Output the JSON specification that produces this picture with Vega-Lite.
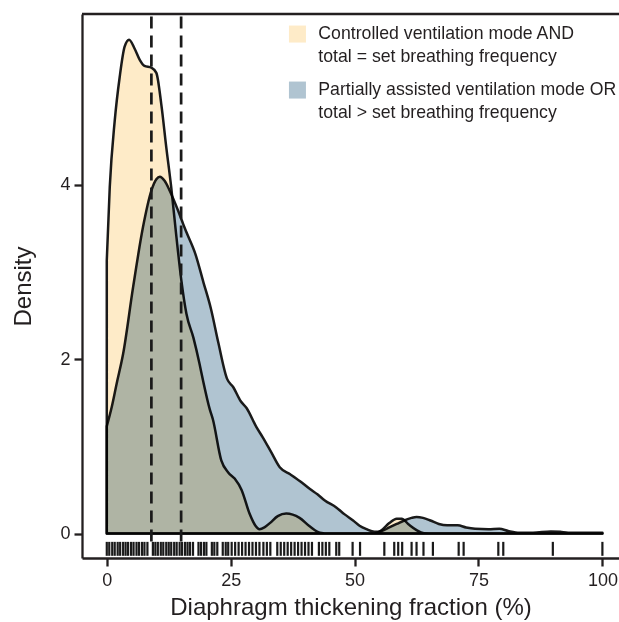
{
  "$schema": "https://vega.github.io/schema/vega-lite/v6.json",
  "autosize": {"type": "none"},
  "padding": {"left": 82, "top": 14, "right": 0, "bottom": 64},
  "width": 537,
  "height": 544,
  "config": {
    "view": {"stroke": null},
    "font": "Liberation Sans",
    "axis": {
      "grid": false,
      "domainColor": "#231F20",
      "domainWidth": 2.3,
      "tickColor": "#231F20",
      "tickWidth": 2.3,
      "tickSize": 8,
      "labelFont": "Liberation Sans",
      "labelFontSize": 18,
      "labelColor": "#231F20",
      "titleFont": "Liberation Sans",
      "titleFontSize": 24,
      "titleFontWeight": "normal",
      "titleColor": "#231F20"
    },
    "legend": {
      "orient": "none",
      "legendX": 206.6,
      "legendY": 11.2,
      "padding": 0,
      "symbolType": "square",
      "symbolSize": 289,
      "symbolStrokeWidth": 0,
      "symbolOpacity": 1,
      "labelFont": "Liberation Sans",
      "labelFontSize": 17.7,
      "labelColor": "#231F20",
      "labelOffset": 12,
      "labelLimit": 400,
      "rowPadding": 14
    }
  },
  "datasets": {
    "density": [
      {"g": "c", "x": 0, "y": 3.13}, {"g": "c", "x": 0.6, "y": 3.97}, {"g": "c", "x": 1.6, "y": 4.73}, {"g": "c", "x": 2.6, "y": 5.23},
      {"g": "c", "x": 3.6, "y": 5.58}, {"g": "c", "x": 4.5, "y": 5.66}, {"g": "c", "x": 5.6, "y": 5.56}, {"g": "c", "x": 6.65, "y": 5.43},
      {"g": "c", "x": 7.6, "y": 5.36}, {"g": "c", "x": 9.0, "y": 5.34}, {"g": "c", "x": 10.0, "y": 5.28}, {"g": "c", "x": 11.0, "y": 4.92},
      {"g": "c", "x": 12.0, "y": 4.43}, {"g": "c", "x": 13.0, "y": 3.97}, {"g": "c", "x": 14.05, "y": 3.40}, {"g": "c", "x": 15.05, "y": 2.90},
      {"g": "c", "x": 16.07, "y": 2.52}, {"g": "c", "x": 17.5, "y": 2.24}, {"g": "c", "x": 18.7, "y": 1.95}, {"g": "c", "x": 19.4, "y": 1.76},
      {"g": "c", "x": 20.8, "y": 1.42}, {"g": "c", "x": 21.4, "y": 1.31}, {"g": "c", "x": 23.1, "y": 0.84}, {"g": "c", "x": 24.5, "y": 0.70},
      {"g": "c", "x": 25.8, "y": 0.63}, {"g": "c", "x": 27.2, "y": 0.50}, {"g": "c", "x": 28.8, "y": 0.23}, {"g": "c", "x": 30.0, "y": 0.09},
      {"g": "c", "x": 30.8, "y": 0.05}, {"g": "c", "x": 31.8, "y": 0.07}, {"g": "c", "x": 32.9, "y": 0.12}, {"g": "c", "x": 34.5, "y": 0.20},
      {"g": "c", "x": 36.2, "y": 0.23}, {"g": "c", "x": 38.9, "y": 0.18}, {"g": "c", "x": 41, "y": 0.08}, {"g": "c", "x": 43, "y": 0.01},
      {"g": "c", "x": 45, "y": 0}, {"g": "c", "x": 54, "y": 0}, {"g": "c", "x": 55.5, "y": 0.04}, {"g": "c", "x": 57, "y": 0.12},
      {"g": "c", "x": 58.5, "y": 0.17}, {"g": "c", "x": 59.5, "y": 0.17}, {"g": "c", "x": 61, "y": 0.10}, {"g": "c", "x": 62.5, "y": 0.04},
      {"g": "c", "x": 64, "y": 0.005}, {"g": "c", "x": 66, "y": 0}, {"g": "c", "x": 100, "y": 0},
      {"g": "p", "x": 0, "y": 1.23}, {"g": "p", "x": 1, "y": 1.45}, {"g": "p", "x": 2, "y": 1.72}, {"g": "p", "x": 3.3, "y": 2.06},
      {"g": "p", "x": 5.3, "y": 2.82}, {"g": "p", "x": 7.3, "y": 3.51}, {"g": "p", "x": 9.0, "y": 3.93}, {"g": "p", "x": 10.0, "y": 4.06},
      {"g": "p", "x": 10.7, "y": 4.09}, {"g": "p", "x": 11.7, "y": 4.04}, {"g": "p", "x": 12.7, "y": 3.93}, {"g": "p", "x": 14.4, "y": 3.70},
      {"g": "p", "x": 15.4, "y": 3.55}, {"g": "p", "x": 16.1, "y": 3.45}, {"g": "p", "x": 17.9, "y": 3.20}, {"g": "p", "x": 19.5, "y": 2.88},
      {"g": "p", "x": 21.0, "y": 2.58}, {"g": "p", "x": 22.5, "y": 2.19}, {"g": "p", "x": 24.3, "y": 1.77}, {"g": "p", "x": 25.5, "y": 1.68},
      {"g": "p", "x": 27.0, "y": 1.52}, {"g": "p", "x": 28.2, "y": 1.44}, {"g": "p", "x": 30.2, "y": 1.22}, {"g": "p", "x": 31.5, "y": 1.10},
      {"g": "p", "x": 33.2, "y": 0.93}, {"g": "p", "x": 34.9, "y": 0.76}, {"g": "p", "x": 37, "y": 0.68}, {"g": "p", "x": 39, "y": 0.60},
      {"g": "p", "x": 41, "y": 0.51}, {"g": "p", "x": 42.5, "y": 0.45}, {"g": "p", "x": 44, "y": 0.38}, {"g": "p", "x": 46.3, "y": 0.30},
      {"g": "p", "x": 48, "y": 0.22}, {"g": "p", "x": 49.7, "y": 0.15}, {"g": "p", "x": 51, "y": 0.09}, {"g": "p", "x": 52.4, "y": 0.05},
      {"g": "p", "x": 54.0, "y": 0.02}, {"g": "p", "x": 55.5, "y": 0.03}, {"g": "p", "x": 57.0, "y": 0.07}, {"g": "p", "x": 58.5, "y": 0.11},
      {"g": "p", "x": 60, "y": 0.15}, {"g": "p", "x": 61.5, "y": 0.18}, {"g": "p", "x": 62.5, "y": 0.19}, {"g": "p", "x": 63.8, "y": 0.18},
      {"g": "p", "x": 65.3, "y": 0.15}, {"g": "p", "x": 67, "y": 0.11}, {"g": "p", "x": 68.7, "y": 0.095}, {"g": "p", "x": 70.8, "y": 0.095},
      {"g": "p", "x": 72.5, "y": 0.07}, {"g": "p", "x": 74.3, "y": 0.055}, {"g": "p", "x": 77, "y": 0.05}, {"g": "p", "x": 79.2, "y": 0.055},
      {"g": "p", "x": 81, "y": 0.03}, {"g": "p", "x": 83.3, "y": 0.01}, {"g": "p", "x": 86, "y": 0.01}, {"g": "p", "x": 89.6, "y": 0.025},
      {"g": "p", "x": 91.5, "y": 0.02}, {"g": "p", "x": 93.1, "y": 0.01}, {"g": "p", "x": 96, "y": 0.01}, {"g": "p", "x": 100, "y": 0.01}
    ],
    "rug": [
      {"x": 0}, {"x": 0.5}, {"x": 1.1}, {"x": 1.6}, {"x": 2.2}, {"x": 2.7}, {"x": 3.3}, {"x": 3.8}, {"x": 4.3}, {"x": 4.9},
      {"x": 5.4}, {"x": 6.0}, {"x": 6.5}, {"x": 7.1}, {"x": 7.6}, {"x": 8.2}, {"x": 9.3}, {"x": 9.8}, {"x": 10.3}, {"x": 10.9},
      {"x": 11.4}, {"x": 12.0}, {"x": 12.5}, {"x": 13.0}, {"x": 13.6}, {"x": 14.1}, {"x": 14.7}, {"x": 15.2}, {"x": 15.8}, {"x": 16.3},
      {"x": 16.8}, {"x": 17.4}, {"x": 18.5}, {"x": 19.0}, {"x": 19.6}, {"x": 20.1}, {"x": 21.2}, {"x": 21.7}, {"x": 22.3}, {"x": 23.4},
      {"x": 24.0}, {"x": 24.5}, {"x": 25.2}, {"x": 25.9}, {"x": 26.6}, {"x": 27.3}, {"x": 28.0}, {"x": 28.7}, {"x": 29.4}, {"x": 30.1},
      {"x": 30.8}, {"x": 31.6}, {"x": 32.3}, {"x": 33.0}, {"x": 34.4}, {"x": 35.1}, {"x": 35.8}, {"x": 36.5}, {"x": 37.2}, {"x": 37.9},
      {"x": 38.6}, {"x": 39.3}, {"x": 40.0}, {"x": 40.7}, {"x": 41.4}, {"x": 42.8}, {"x": 43.5}, {"x": 44.2}, {"x": 44.9}, {"x": 46.3},
      {"x": 46.9}, {"x": 49.6}, {"x": 51.1}, {"x": 56}, {"x": 58}, {"x": 58.8}, {"x": 59.6}, {"x": 61.5}, {"x": 62.5}, {"x": 63.9},
      {"x": 65.8}, {"x": 71}, {"x": 72}, {"x": 79}, {"x": 80}, {"x": 90}, {"x": 100}
    ],
    "cutoffs": [{"x": 9.0}, {"x": 15.0}]
  },
  "layer": [
    {
      "data": {"name": "density"},
      "mark": {"type": "area", "interpolate": "monotone", "stroke": "#1A1A1A", "strokeWidth": 2.5, "strokeJoin": "round", "blend": "multiply", "opacity": 1},
      "encoding": {
        "x": {"field": "x", "type": "quantitative", "scale": {"domain": [-5, 103.35], "nice": false, "zero": false},
              "axis": {"title": "Diaphragm thickening fraction (%)", "values": [0, 25, 50, 75, 100], "format": "d", "labelPadding": 5, "titlePadding": 6}},
        "y": {"field": "y", "type": "quantitative", "scale": {"domain": [-0.28, 5.955], "nice": false, "zero": false},
              "axis": {"title": "Density", "values": [0, 2, 4], "format": "d", "labelPadding": 4, "titlePadding": 24}},
        "y2": {"datum": 0},
        "color": {"field": "g", "type": "nominal",
                  "scale": {"domain": ["c", "p"], "range": ["#FEEBC8", "#B0C4D1"]},
                  "legend": {"title": null,
                             "encoding": {"labels": {"lineHeight": {"value": 22.6}}},
                             "labelExpr": "datum.value == 'c' ? ['Controlled ventilation mode AND', 'total = set breathing frequency'] : ['Partially assisted ventilation mode OR', 'total > set breathing frequency']"}}
      }
    },
    {
      "data": {"name": "cutoffs"},
      "mark": {"type": "rule", "color": "#1A1A1A", "strokeWidth": 2.7, "strokeDash": [12, 7]},
      "encoding": {
        "x": {"field": "x", "type": "quantitative"},
        "y": {"datum": -0.09},
        "y2": {"datum": 5.955}
      }
    },
    {
      "data": {"name": "rug"},
      "mark": {"type": "rule", "color": "#1A1A1A", "strokeWidth": 2.2},
      "encoding": {
        "x": {"field": "x", "type": "quantitative"},
        "y": {"datum": -0.095},
        "y2": {"datum": -0.255}
      }
    },
    {
      "data": {"values": [{"top": 5.955}]},
      "mark": {"type": "rule", "color": "#231F20", "strokeWidth": 2.3},
      "encoding": {
        "y": {"field": "top", "type": "quantitative"}
      }
    }
  ]
}
